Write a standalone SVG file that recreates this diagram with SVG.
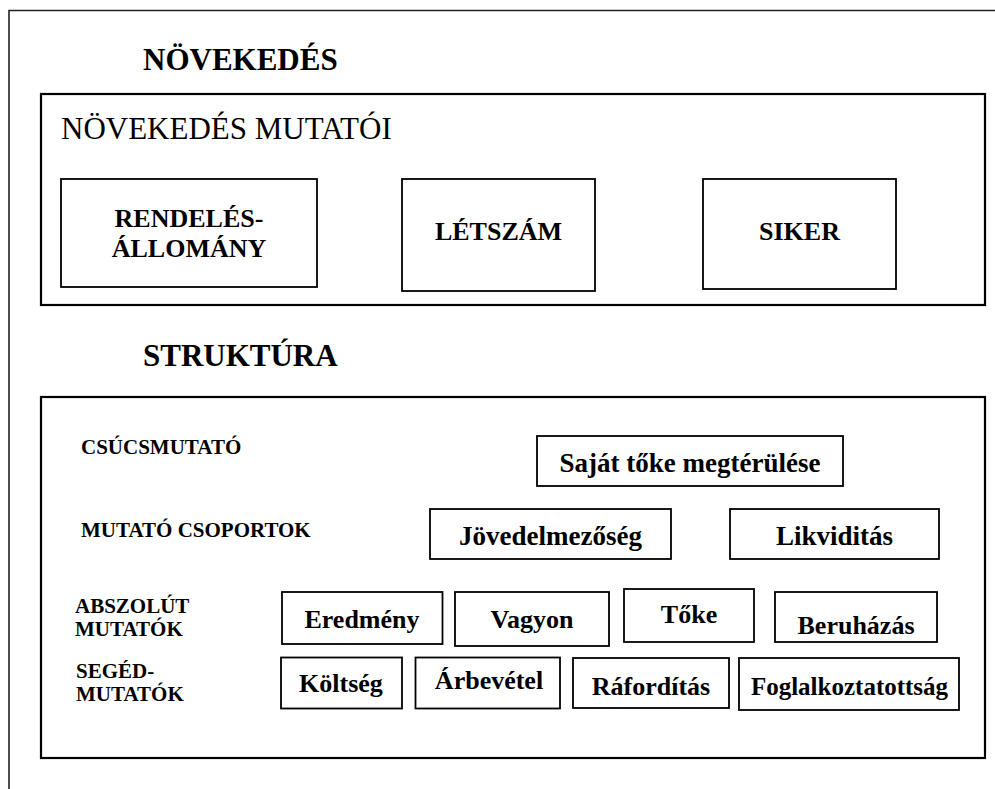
<svg xmlns="http://www.w3.org/2000/svg" width="995" height="789" viewBox="0 0 995 789">
  <style>
    text { font-family: "Liberation Serif", "Times New Roman", serif; fill: #000; }
    .title { font-size: 31px; font-weight: bold; }
    .heading { font-size: 31px; }
    .label { font-size: 26px; font-weight: bold; text-anchor: middle; }
    .label27 { font-size: 27px; font-weight: bold; text-anchor: middle; }
    .row { font-size: 21px; font-weight: bold; }
    .panel { fill: none; stroke: #000; stroke-width: 2.2; }
    .box { fill: #fff; stroke: #000; stroke-width: 1.8; }
    .frame { fill: none; stroke: #222; stroke-width: 1.6; }
  </style>

  <!-- page frame (open on the right and bottom) -->
  <path class="frame" d="M9,789 V10.5 H995"/>

  <!-- growth section -->
  <text class="title" x="143" y="70">NÖVEKEDÉS</text>
  <g id="growth-panel">
    <rect class="panel" x="41" y="94" width="944" height="211"/>
    <text class="heading" x="61" y="139">NÖVEKEDÉS MUTATÓI</text>
  </g>
  <g id="node-rendelesallomany">
    <rect class="box" x="61" y="179" width="256" height="108"/>
    <text class="label" x="189" y="227">RENDELÉS-</text>
    <text class="label" x="189" y="257">ÁLLOMÁNY</text>
  </g>
  <g id="node-letszam">
    <rect class="box" x="402" y="179" width="193" height="112"/>
    <text class="label" x="498.5" y="240">LÉTSZÁM</text>
  </g>
  <g id="node-siker">
    <rect class="box" x="703" y="179" width="193" height="110"/>
    <text class="label" x="799.5" y="240">SIKER</text>
  </g>

  <!-- structure section -->
  <text class="title" x="143" y="366">STRUKTÚRA</text>
  <g id="structure-panel">
    <rect class="panel" x="41" y="397" width="944" height="361"/>
    <text class="row" x="81" y="454">CSÚCSMUTATÓ</text>
    <text class="row" x="81" y="537">MUTATÓ CSOPORTOK</text>
    <text class="row" x="75" y="613">ABSZOLÚT</text>
    <text class="row" x="75" y="636">MUTATÓK</text>
    <text class="row" x="76" y="678">SEGÉD-</text>
    <text class="row" x="76" y="701">MUTATÓK</text>
  </g>

  <g id="node-sajat-toke">
    <rect class="box" x="537" y="436" width="306" height="50"/>
    <text class="label27" x="690" y="472">Saját tőke megtérülése</text>
  </g>
  <g id="node-jovedelmezoseg">
    <rect class="box" x="430" y="509" width="241" height="50"/>
    <text class="label27" x="550.5" y="545">Jövedelmezőség</text>
  </g>
  <g id="node-likviditas">
    <rect class="box" x="730" y="509" width="209" height="50"/>
    <text class="label27" x="834.5" y="545">Likviditás</text>
  </g>

  <g id="node-eredmeny">
    <rect class="box" x="282" y="592" width="160.5" height="52"/>
    <text class="label" x="362" y="628">Eredmény</text>
  </g>
  <g id="node-vagyon">
    <rect class="box" x="455" y="592" width="154" height="54"/>
    <text class="label" x="532" y="628">Vagyon</text>
  </g>
  <g id="node-toke">
    <rect class="box" x="624" y="589" width="130" height="53"/>
    <text class="label" x="689" y="623">Tőke</text>
  </g>
  <g id="node-beruhazas">
    <rect class="box" x="775" y="592" width="162" height="50"/>
    <text class="label" x="856" y="634">Beruházás</text>
  </g>

  <g id="node-koltseg">
    <rect class="box" x="281" y="657.5" width="121" height="51"/>
    <text class="label" x="341" y="692">Költség</text>
  </g>
  <g id="node-arbevetel">
    <rect class="box" x="415.5" y="657.5" width="144.5" height="51"/>
    <text class="label" x="489" y="689">Árbevétel</text>
  </g>
  <g id="node-raforditas">
    <rect class="box" x="573" y="658" width="156" height="50"/>
    <text class="label" x="651" y="695">Ráfordítás</text>
  </g>
  <g id="node-foglalkoztatottsag">
    <rect class="box" x="739" y="658" width="220" height="52"/>
    <text class="label" x="849.5" y="695" style="font-size:25px">Foglalkoztatottság</text>
  </g>

  <!-- no connectors are drawn between the boxes -->
  <g id="connectors"/>
</svg>
